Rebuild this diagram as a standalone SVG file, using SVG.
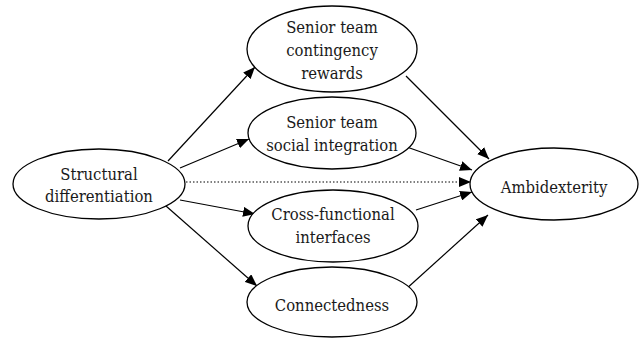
<svg xmlns="http://www.w3.org/2000/svg" width="639" height="339" viewBox="0 0 639 339">
<defs>
<marker id="ah" viewBox="0 0 12 10" refX="12" refY="5" markerWidth="12" markerHeight="10" markerUnits="userSpaceOnUse" orient="auto">
<path d="M0,0 L12,5 L0,10 z" fill="#000"/>
</marker>
<style>
.n ellipse{fill:#fff;stroke:#000;stroke-width:1.3}
.n text{font-family:'DejaVu Serif Condensed','DejaVu Serif',serif;font-size:16.5px;fill:#1a1a1a;text-anchor:middle}
.e line{stroke:#000;stroke-width:1.2;marker-end:url(#ah)}
.e .d{stroke-dasharray:1.5 2}
</style>
</defs>
<rect width="639" height="339" fill="#fff"/>
<g class="e">
<line x1="168" y1="161" x2="255" y2="67"/>
<line x1="180" y1="168" x2="249" y2="139"/>
<line class="d" x1="186" y1="182" x2="471" y2="182"/>
<line x1="180" y1="200" x2="255" y2="214"/>
<line x1="166" y1="206" x2="257" y2="286"/>
<line x1="406" y1="76" x2="489" y2="159"/>
<line x1="404" y1="146" x2="472" y2="170"/>
<line x1="416" y1="210" x2="472" y2="192"/>
<line x1="405" y1="290" x2="488" y2="215"/>
</g>
<g id="structural" class="n"><ellipse cx="99" cy="184" rx="86" ry="35"/><text x="99" y="180">Structural</text><text x="99" y="202">differentiation</text></g>
<g id="contingency" class="n"><ellipse cx="332" cy="49" rx="85" ry="43"/><text x="332" y="33">Senior team</text><text x="332" y="56">contingency</text><text x="332" y="79">rewards</text></g>
<g id="social" class="n"><ellipse cx="332" cy="133" rx="84" ry="36"/><text x="332" y="128">Senior team</text><text x="332" y="151">social integration</text></g>
<g id="cross" class="n"><ellipse cx="333" cy="226" rx="85" ry="36"/><text x="333" y="220">Cross-functional</text><text x="333" y="243">interfaces</text></g>
<g id="connectedness" class="n"><ellipse cx="332" cy="302" rx="85" ry="35"/><text x="332" y="311">Connectedness</text></g>
<g id="ambidexterity" class="n"><ellipse cx="554" cy="184" rx="84" ry="36"/><text x="554" y="193">Ambidexterity</text></g>
</svg>
